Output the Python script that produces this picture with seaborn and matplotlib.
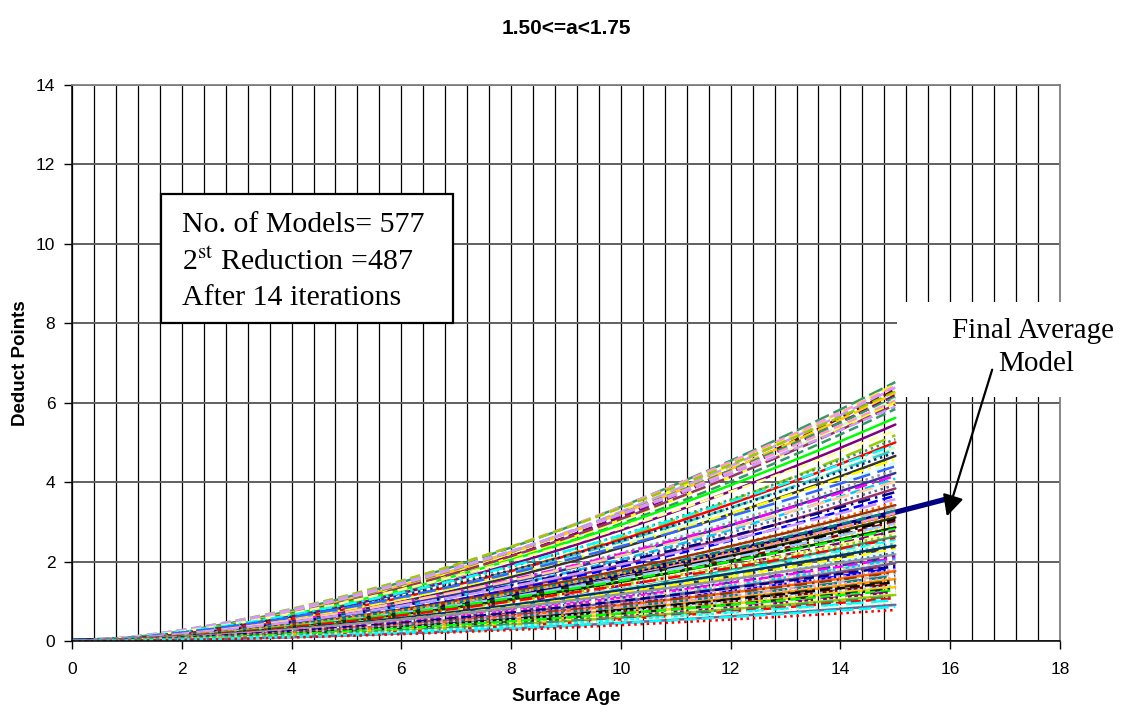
import numpy as np
import pandas as pd
import matplotlib
matplotlib.use("Agg")
import matplotlib.pyplot as plt
import seaborn as sns
from matplotlib.patches import Rectangle, FancyArrowPatch

# ---------------- data ----------------
title = "1.50<=a<1.75"
x_label = "Surface Age"
y_label = "Deduct Points"
x_ticks = [0, 2, 4, 6, 8, 10, 12, 14, 16, 18]
y_ticks = [0, 2, 4, 6, 8, 10, 12, 14]
model_last_age = 15.0

# deduct points of each model at age 15
top_end_values = [6.52, 6.47, 6.42, 6.38, 6.33, 6.28, 6.24, 6.19, 6.14, 6.10,
                  6.05, 6.00, 5.95, 5.90, 5.84]
mid_end_values = [5.62, 5.45, 5.30, 5.18, 5.08, 5.00, 4.94, 4.88, 4.82, 4.75,
                  4.66, 4.58, 4.49, 4.40, 4.31, 4.23, 4.16, 4.09, 4.02, 3.93,
                  3.84, 3.75, 3.66, 3.57, 3.49, 3.42, 3.36]
low_end_values = [3.28, 3.22, 3.16, 3.11, 3.06, 3.01, 2.96, 2.91, 2.86, 2.82,
                  2.77, 2.72, 2.68, 2.63, 2.58, 2.54, 2.49, 2.45, 2.40, 2.36,
                  2.31, 2.27, 2.22, 2.18, 2.13, 2.09, 2.05, 2.01, 1.96, 1.92,
                  1.88, 1.84, 1.80, 1.76, 1.72, 1.68, 1.64, 1.60, 1.56, 1.52,
                  1.48, 1.44, 1.40, 1.36, 1.32, 1.28, 1.24, 1.20, 1.16, 1.12,
                  1.08, 1.03, 0.97, 0.91, 0.86, 0.78]
# exponent "a" of each model (1.50 <= a < 1.75)
top_exponents = [1.62, 1.70, 1.58, 1.66, 1.73, 1.55, 1.64, 1.69, 1.60, 1.72,
                 1.57, 1.67, 1.63, 1.52, 1.68]
mid_exponents = [1.61, 1.65, 1.54, 1.71, 1.59, 1.66, 1.53, 1.74, 1.62, 1.56,
                 1.69, 1.60, 1.73, 1.51, 1.64, 1.67, 1.58, 1.70, 1.55, 1.63,
                 1.72, 1.57, 1.66, 1.52, 1.68, 1.61, 1.65]
low_exponents = [1.59, 1.71, 1.54, 1.66, 1.62, 1.74, 1.56, 1.68, 1.60, 1.53,
                 1.70, 1.64, 1.57, 1.73, 1.51, 1.65, 1.61, 1.69, 1.55, 1.67,
                 1.58, 1.72, 1.63, 1.52, 1.66, 1.60, 1.74, 1.56, 1.69, 1.62,
                 1.54, 1.71, 1.59, 1.65, 1.57, 1.73, 1.61, 1.53, 1.68, 1.64,
                 1.58, 1.70, 1.55, 1.67, 1.62, 1.52, 1.72, 1.60, 1.66, 1.57,
                 1.69, 1.63, 1.54, 1.71, 1.59, 1.65]

avg_last_age = 16.0
avg_last_value = 3.6
avg_exponent = 1.62

box_lines = ["No. of Models= 577", r"2$^{\rm st}$ Reduction =487", "After 14 iterations"]
note_lines = ["Final Average", "Model"]

# ---------------- styles ----------------
excel_palette = ['#000080', '#FF00FF', '#FFFF00', '#00FFFF', '#800080', '#800000',
                 '#008080', '#0000FF', '#00CCFF', '#CCFFFF', '#CCFFCC', '#FFFF99',
                 '#99CCFF', '#FF99CC', '#CC99FF', '#FFCC99', '#3366FF', '#33CCCC',
                 '#99CC00', '#FFCC00', '#FF9900', '#FF6600', '#666699', '#969696',
                 '#003366', '#339966', '#003300', '#333300', '#993300', '#993366',
                 '#333399', '#333333', '#FF0000', '#00FF00', '#000000', '#C0C0C0']
top_colors = ['#339966', '#FFFF00', '#FF99CC', '#CC99FF', '#800000', '#99CC00',
              '#FFCC00', '#800080', '#339966', '#CCFFCC', '#FF99CC', '#FFFF00',
              '#993366', '#CC99FF', '#339966']
dash_styles = ["", (4, 2), (1, 1.5), (5, 2, 1, 2), (7, 3)]

end_values = top_end_values + mid_end_values + low_end_values
exponents = top_exponents + mid_exponents + low_exponents

ages = np.arange(0, model_last_age + 0.001, 0.25)
rows = []
palette = {}
dashes = {}
for i, (v, a) in enumerate(zip(end_values, exponents)):
    name = f"m{i:03d}"
    coef = v / model_last_age ** a
    for t in ages:
        rows.append((name, t, coef * t ** a))
    if i < len(top_end_values):
        palette[name] = top_colors[i]
        dashes[name] = (4, 2) if i % 3 else (6, 2)
    else:
        palette[name] = excel_palette[(i * 7) % len(excel_palette)]
        dashes[name] = dash_styles[(i * 3) % len(dash_styles)]
names = [f"m{i:03d}" for i in range(len(end_values))]
palette[names[-1]] = '#FF0000'; dashes[names[-1]] = (1, 1.5)
palette[names[-2]] = '#00FFFF'; dashes[names[-2]] = (5, 2)
palette[names[-3]] = '#666699'; dashes[names[-3]] = ""
palette[names[1 + len(top_end_values)]] = '#800080'
dashes[names[1 + len(top_end_values)]] = ""

df = pd.DataFrame(rows, columns=["model", "age", "deduct"])

avg_ages = np.arange(0, avg_last_age + 0.001, 0.25)
avg_coef = avg_last_value / avg_last_age ** avg_exponent
avg_df = pd.DataFrame({"age": avg_ages, "deduct": avg_coef * avg_ages ** avg_exponent})

# ---------------- figure ----------------
sns.set_style("white")
plt.rcParams['font.family'] = ['Liberation Sans', 'DejaVu Sans']
plt.rcParams['mathtext.fontset'] = 'stix'
plt.rcParams['text.color'] = 'black'
plt.rcParams['axes.labelcolor'] = 'black'
plt.rcParams['xtick.color'] = 'black'
plt.rcParams['ytick.color'] = 'black'

W, H = 1126, 716
fig = plt.figure(figsize=(W / 100, H / 100), dpi=100)
ax = fig.add_axes([72 / W, 1 - 641 / H, (1060 - 72) / W, (641 - 85) / H])

sns.lineplot(data=avg_df, x="age", y="deduct", color="#000080", lw=3.8,
             ax=ax, zorder=2, estimator=None, errorbar=None)
sns.lineplot(data=df, x="age", y="deduct", hue="model", style="model",
             palette=palette, dashes=dashes, lw=1.8, legend=False,
             estimator=None, errorbar=None, ax=ax, zorder=2)

ax.set_xlim(0, 18)
ax.set_ylim(0, 14)
ax.set_xticks(x_ticks)
ax.set_yticks(y_ticks)
ax.set_xticks(np.arange(0, 18.001, 0.4), minor=True)
ax.grid(which='both', axis='x', color='black', lw=0.9, zorder=0)
ax.grid(which='major', axis='y', color='#606060', lw=1.4, zorder=0)
ax.set_axisbelow(True)
ax.tick_params(axis='both', which='major', direction='out', length=6, width=1,
               color='black', labelsize=12.5, labelcolor='black', pad=6)
ax.tick_params(axis='x', which='major', pad=9)
ax.tick_params(axis='x', which='minor', length=0)
ax.tick_params(left=True, bottom=True)
for s in ['left', 'bottom']:
    ax.spines[s].set_color('black'); ax.spines[s].set_linewidth(1.1)
for s in ['top', 'right']:
    ax.spines[s].set_color('#808080'); ax.spines[s].set_linewidth(1.3)

ax.set_xlabel(x_label, fontsize=13.5, fontweight='bold', labelpad=8, color='black')
ax.set_ylabel(y_label, fontsize=13.5, fontweight='bold', labelpad=5, color='black')
ax.set_title(title, fontsize=15, fontweight='bold', pad=37, color='black')

# info box
ax.add_patch(Rectangle((1.62, 8.01), 5.32, 3.25, transform=ax.transData,
                       fc='white', ec='black', lw=1.6, zorder=4))
for yv, line in zip([10.48, 9.55, 8.64], box_lines):
    ax.text(2.0, yv, line, fontsize=21.5, family=['Liberation Serif'],
            ha='left', va='center', zorder=5, color='black')

# white area behind the annotation (covers grid and right border)
fig.patches.append(Rectangle((897 / W, 1 - 397 / H), (W - 897) / W, 95 / H,
                             transform=fig.transFigure, fc='white', ec='none',
                             zorder=2))
fig.text(1033 / W, 1 - 331 / H, note_lines[0], fontsize=21, ha='center',
         va='center', family=['Liberation Serif'], zorder=4, color='black')
fig.text(1036 / W, 1 - 364 / H, note_lines[1], fontsize=21, ha='center',
         va='center', family=['Liberation Serif'], zorder=4, color='black')
arrow = FancyArrowPatch((993 / W, 1 - 367 / H), (946 / W, 1 - 519 / H),
                        transform=fig.transFigure, arrowstyle='-|>',
                        mutation_scale=32, color='black', lw=1.6, zorder=5)
fig.patches.append(arrow)

fig.savefig("out.png", dpi=100)
